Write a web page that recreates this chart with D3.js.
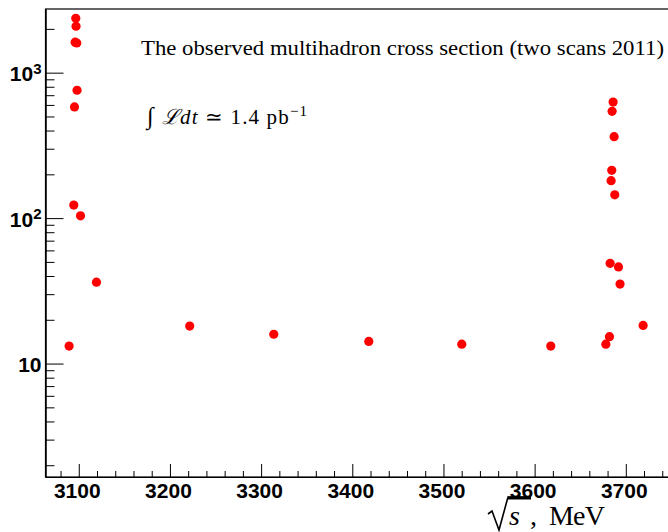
<!DOCTYPE html>
<html>
<head>
<meta charset="utf-8">
<script src="https://cdnjs.cloudflare.com/ajax/libs/d3/7.8.5/d3.min.js"></script>
<style>
  body { margin: 0; background: #fff; }
  svg { display: block; }
  .axis text { font-family: "Liberation Sans", Arial, sans-serif; font-weight: bold; font-size: 21px; fill: #000; }
  .axis path { stroke: #000; }
  .axis line { stroke: #000; }
  .note { font-family: "Liberation Serif", "Times New Roman", serif; fill: #000; }
</style>
</head>
<body>
<div id="chart"></div>
<script>
// sqrt(s) in MeV and observed cross section (nb)
var energy = [3089.4, 3094.5, 3095.3, 3096.0, 3096.7, 3097.0, 3097.8, 3098.1, 3101.9, 3119.4,
              3221.7, 3313.9, 3418.1, 3520.1, 3617.7,
              3678.1, 3682.1, 3682.8, 3683.9, 3684.6, 3685.0, 3686.1, 3687.2, 3687.9, 3692.0, 3693.7, 3719.0];
var xsec = [13.2, 122.9, 581, 1620, 2365, 2085, 1600, 757, 103.7, 36.3,
            18.1, 15.9, 14.2, 13.6, 13.2,
            13.6, 15.3, 48.9, 181, 213, 542, 628, 363, 144.6, 46.2, 35.2, 18.3];

var xMajor = [3100, 3200, 3300, 3400, 3500, 3600, 3700];
var yMajor = [10, 100, 1000];
var yExp = ["", "2", "3"];

var xDomain = [3063.5, 3750];
var yDomain = [1.66, 2740];

var margin = { left: 45.5, top: 9, right: 0, bottom: 55 };
var width = (xDomain[1] - xDomain[0]) * 0.9117;
var height = 532 - margin.top - margin.bottom;

var svg = d3.select("#chart")
    .append("svg")
    .attr("width", 668)
    .attr("height", 532);

var g = svg.append("g")
    .attr("transform", "translate(" + margin.left + ", " + margin.top + ")");

var x = d3.scaleLinear().domain(xDomain).range([0, width]);
var y = d3.scaleLog().domain(yDomain).range([height, 0]);

// minor ticks first (every 20 MeV, and 2..9 per decade)
var xMinor = d3.range(3080, 3750, 20).filter(function(d){ return d % 100 !== 0; });
var yMinor = [];
[1, 10, 100, 1000].forEach(function(dec){
    for (var k = 2; k <= 9; k++) {
        var v = k * dec;
        if (v > yDomain[0] && v < yDomain[1]) yMinor.push(v);
    }
});

g.append("g")
    .attr("class", "axis minor")
    .attr("transform", "translate(0," + height + ")")
    .call(d3.axisBottom(x).tickValues(xMinor).tickSizeInner(-6).tickSizeOuter(0).tickFormat(""));

g.append("g")
    .attr("class", "axis minor")
    .call(d3.axisLeft(y).tickValues(yMinor).tickSizeInner(-9).tickSizeOuter(0).tickFormat(""));

// major ticks + labels
var xAxis = g.append("g")
    .attr("class", "x axis")
    .attr("transform", "translate(0," + height + ")")
    .call(d3.axisBottom(x).tickValues(xMajor).tickSizeInner(-13).tickSizeOuter(0).tickPadding(6).tickFormat(d3.format("d")));
xAxis.selectAll(".tick text").attr("x", -2);

var yAxis = g.append("g")
    .attr("class", "y axis")
    .call(d3.axisLeft(y).tickValues(yMajor).tickSizeInner(-18).tickSizeOuter(0).tickPadding(4).tickFormat(""));

yAxis.selectAll(".tick text").each(function(d, i){
    var t = d3.select(this);
    t.text(null).attr("dy", "0.38em");
    t.append("tspan").text("10");
    if (yExp[i]) {
        t.append("tspan").attr("dy", "-0.5em").style("font-size", "15px").text(yExp[i]);
    }
});

// frame
g.append("rect")
    .attr("width", width)
    .attr("height", height)
    .style("fill", "none")
    .style("stroke", "#000")
    .style("stroke-width", "1.2px");

// data points
g.selectAll("circle.pt")
    .data(energy)
    .enter().append("circle")
    .attr("class", "pt")
    .attr("cx", function(d){ return x(d); })
    .attr("cy", function(d, i){ return y(xsec[i]); })
    .attr("r", 4.6)
    .style("fill", "#ff0000");

// annotations
svg.append("text")
    .attr("class", "note")
    .attr("x", 141)
    .attr("y", 55)
    .attr("textLength", 523)
    .attr("lengthAdjust", "spacingAndGlyphs")
    .style("font-size", "20px")
    .text("The observed multihadron cross section (two scans 2011)");

var lum = svg.append("text")
    .attr("class", "note")
    .attr("x", 147)
    .attr("y", 124)
    .attr("textLength", 160)
    .attr("lengthAdjust", "spacing")
    .style("font-size", "21px");
lum.append("tspan").style("font-size", "24px").text("\u222B ");
lum.append("tspan").style("font-style", "italic").text("\u2112dt");
lum.append("tspan").text(" \u2243 1.4 pb");
lum.append("tspan").attr("dy", "-0.55em").style("font-size", "15px").text("\u22121");

// x title: sqrt(s), MeV  (radical drawn as a path next to the italic s)
var tx = 488, ty = 525;
svg.append("path")
    .attr("d", "M" + tx + "," + (ty - 11) + " l4,-3 l7,19 l9,-33 h23")
    .style("fill", "none")
    .style("stroke", "#000")
    .style("stroke-width", "1.6px")
    .style("stroke-linejoin", "miter");
svg.append("line")
    .attr("x1", tx + 20).attr("x2", tx + 43)
    .attr("y1", ty - 27).attr("y2", ty - 27)
    .style("stroke", "#000")
    .style("stroke-width", "3px");
svg.append("text")
    .attr("class", "note")
    .attr("x", tx + 21)
    .attr("y", ty)
    .style("font-size", "28px")
    .style("font-style", "italic")
    .text("s");
svg.append("text")
    .attr("class", "note")
    .attr("x", tx + 42)
    .attr("y", ty)
    .style("font-size", "28px")
    .text(",");
svg.append("text")
    .attr("class", "note")
    .attr("x", tx + 61)
    .attr("y", ty)
    .attr("textLength", 56)
    .style("font-size", "28px")
    .text("MeV");
</script>
</body>
</html>
